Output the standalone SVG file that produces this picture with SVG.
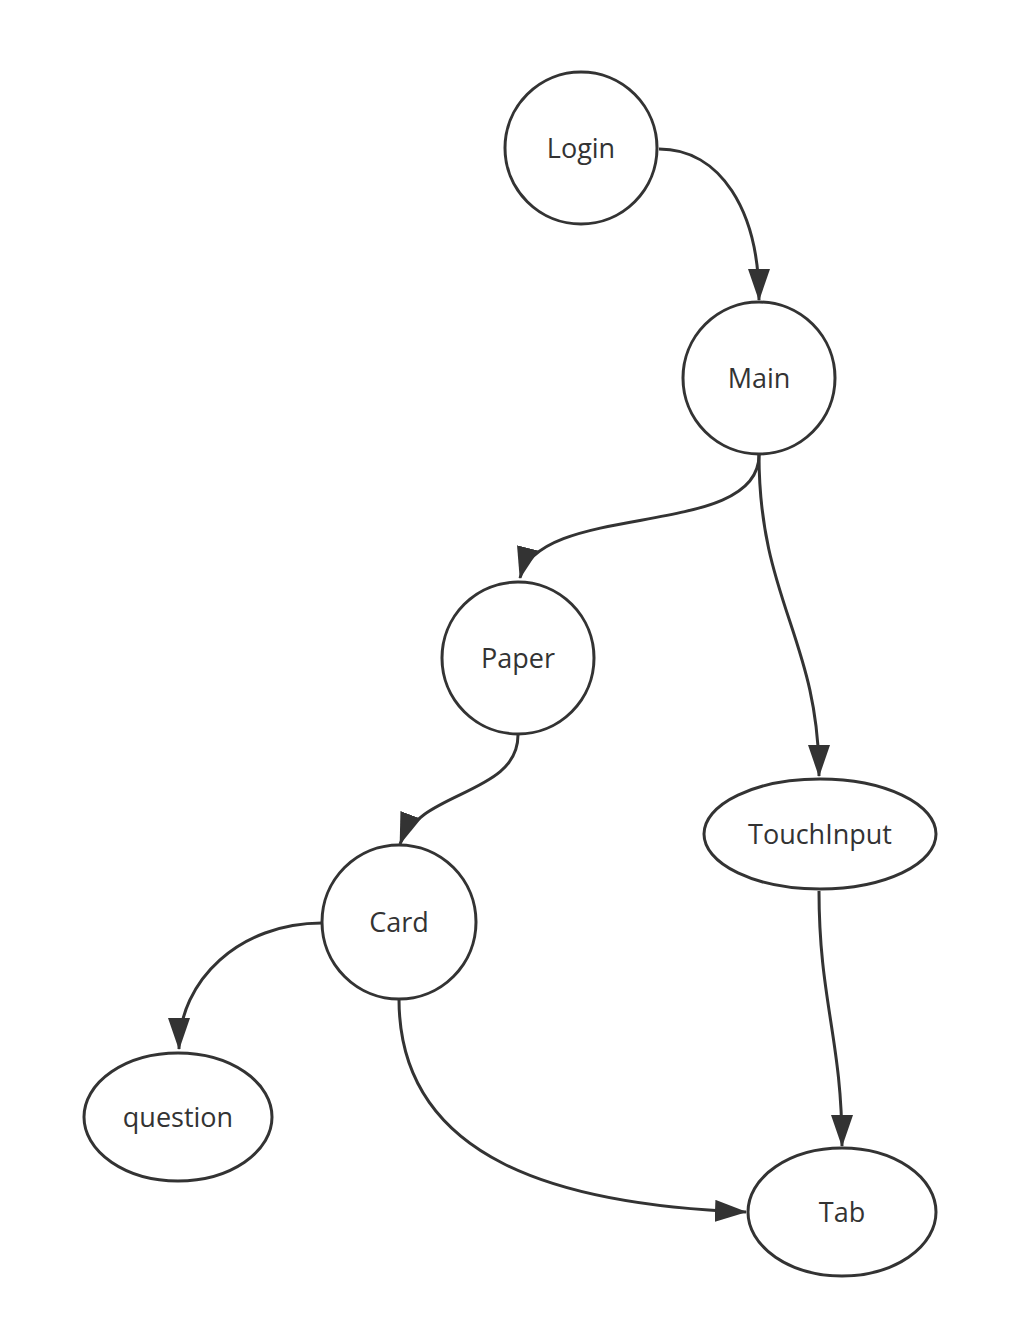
<svg xmlns="http://www.w3.org/2000/svg" width="1030" height="1338" viewBox="0 0 1030 1338">
  <style>
    .node { fill: #ffffff; stroke: #333333; stroke-width: 3; }
    .label { font-family: "Open Sans", "Noto Sans", sans-serif; font-size: 27px; fill: #333333; text-anchor: middle; }
    .edge { fill: none; stroke: #333333; stroke-width: 3; marker-end: url(#arrow); }
  </style>
  <defs>
    <marker id="arrow" viewBox="0 0 32 22" refX="31" refY="11" markerWidth="32" markerHeight="22" markerUnits="userSpaceOnUse" orient="auto">
      <path d="M0,0 L32,11 L0,22 Z" fill="#333333"/>
    </marker>
  </defs>
  <rect width="1030" height="1338" fill="#ffffff"/>

  <g id="edges">
    <path class="edge" d="M659,149 C720,149 759,210 759,300"/>
    <path class="edge" d="M759,455 C759,540 540,500 520,578"/>
    <path class="edge" d="M759,455 C759,600 819,640 819,776"/>
    <path class="edge" d="M518,735 C518,795 420,790 400,844"/>
    <path class="edge" d="M322,923 C240,923 179,980 179,1049"/>
    <path class="edge" d="M399,999 C399,1160 560,1205 746,1212"/>
    <path class="edge" d="M819,891 C819,1000 842,1040 842,1146"/>
  </g>

  <g id="login">
    <circle class="node" cx="581" cy="148" r="76"/>
    <text class="label" x="581" y="158">Login</text>
  </g>
  <g id="main">
    <circle class="node" cx="759" cy="378" r="76"/>
    <text class="label" x="759" y="388">Main</text>
  </g>
  <g id="paper">
    <circle class="node" cx="518" cy="658" r="76"/>
    <text class="label" x="518" y="668">Paper</text>
  </g>
  <g id="touchinput">
    <ellipse class="node" cx="820" cy="834" rx="116" ry="55"/>
    <text class="label" x="820" y="844">TouchInput</text>
  </g>
  <g id="card">
    <circle class="node" cx="399" cy="922" r="77"/>
    <text class="label" x="399" y="932">Card</text>
  </g>
  <g id="question">
    <ellipse class="node" cx="178" cy="1117" rx="94" ry="64"/>
    <text class="label" x="178" y="1127">question</text>
  </g>
  <g id="tab">
    <ellipse class="node" cx="842" cy="1212" rx="94" ry="64"/>
    <text class="label" x="842" y="1222">Tab</text>
  </g>
</svg>
